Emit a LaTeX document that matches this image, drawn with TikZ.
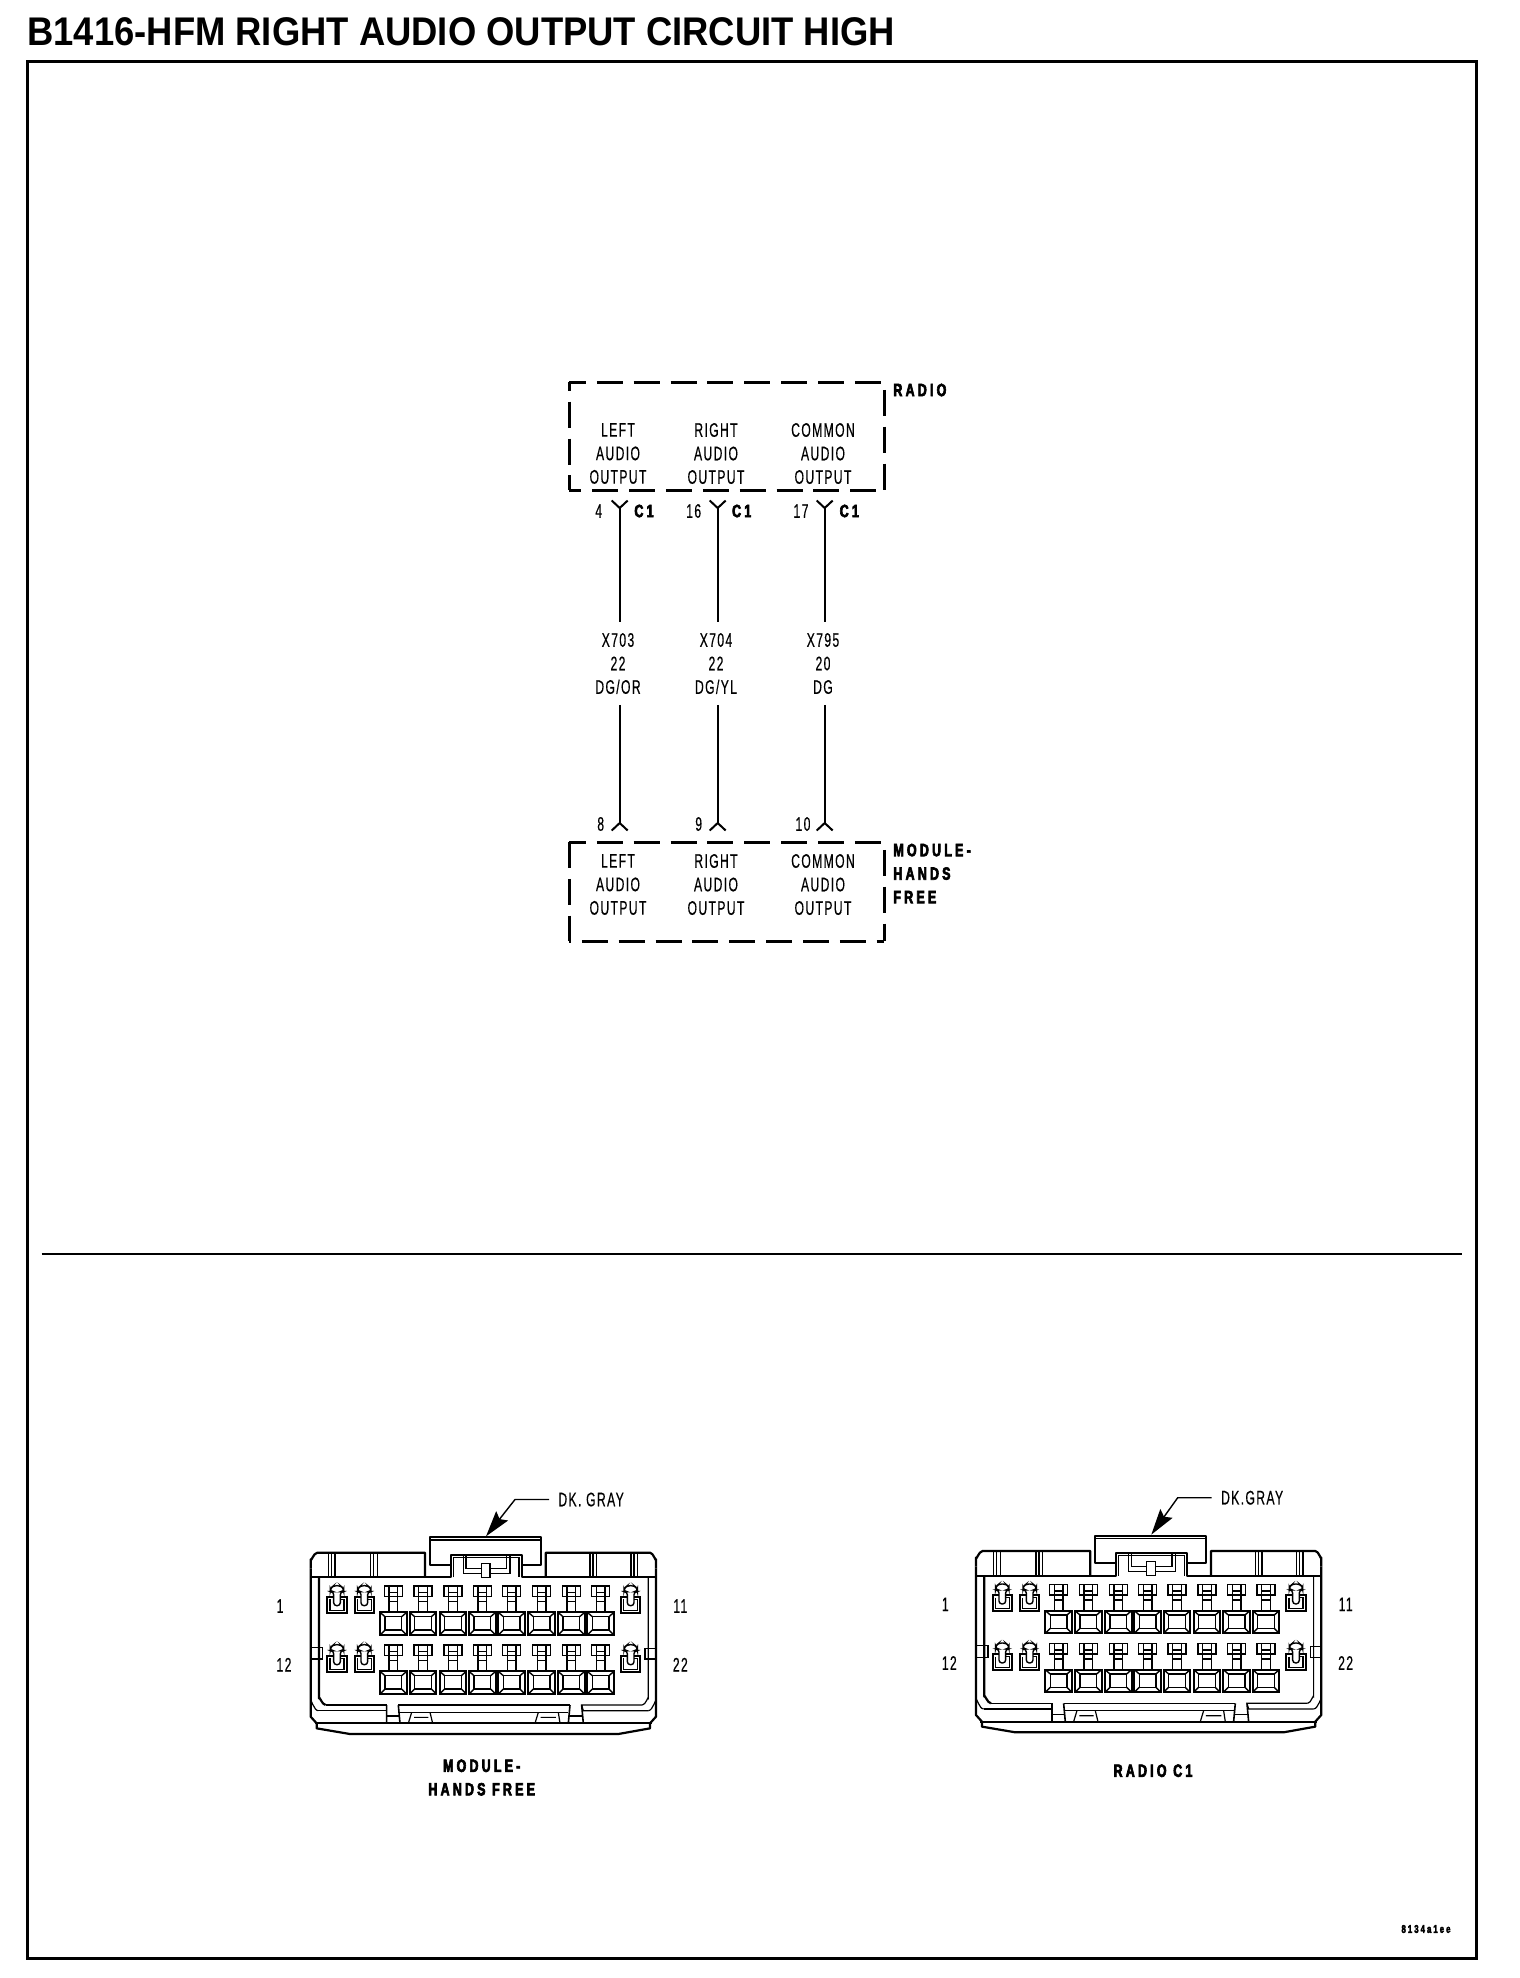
\documentclass[tikz,border=0pt]{standalone}
\usepackage{fontspec}
\setmainfont{Liberation Sans}
\newfontfamily\titlefont[FakeStretch=0.91]{Liberation Sans}
\newfontfamily\wirefont[FakeStretch=0.62,LetterSpace=7,FakeBold=0.4]{Liberation Sans}
\newfontfamily\tagfont[FakeStretch=0.7,LetterSpace=18,FakeBold=3.5]{Liberation Sans}
\usetikzlibrary{arrows.meta, positioning}

\tikzset{
  wiretext/.style={font=\wirefont\fontsize{9.8}{11.75}\selectfont, align=center, inner sep=0pt},
  tagtext/.style={font=\tagfont\bfseries\fontsize{8.9}{11.75}\selectfont, align=left, inner sep=0pt},
  region/.style={minimum width=157.5pt, inner sep=0pt, outer sep=0pt},
  dashside/.style={line width=1.5pt, dash pattern=on 13pt off 5.43pt},
  wire/.style={line width=1pt},
  leader/.style={line width=.7pt, -{Stealth[length=13pt,width=7.5pt,inset=2pt]}},
  shell/.style={line width=1.1pt, line join=round},
  fine/.style={line width=.6pt},
  pinline/.style={line width=.7pt, line join=miter},
  bigpin/.pic={
    \draw[pinline] (-27,0) rectangle (27,32);
    \draw[pinline] (-13,0) -- (-13,79) (13,0) -- (13,79) (-13,47) -- (13,47) (-13,20) -- (13,20);
    \draw[pinline, line width=1pt] (-40,79) rectangle (40,147);
    \draw[pinline] (-25,92) rectangle (25,132);
    \draw[pinline] (-40,79) -- (-25,92) (40,79) -- (25,92) (-40,147) -- (-25,132) (40,147) -- (25,132);
  },
  smallpin/.pic={
    \draw[pinline, rounded corners=1.5pt] (-10,62) -- (-10,20) -- (-20,20) -- (-20,10) -- (-10,2) -- (10,2) -- (20,10) -- (20,20) -- (10,20) -- (10,62) -- cycle;
    \draw[pinline, line width=1pt] (-10,35) -- (-29,35) -- (-29,84) -- (29,84) -- (29,35) -- (10,35);
    \draw[pinline] (-21,43) -- (-21,76) -- (21,76) -- (21,43) -- (10,43);
  },
  dkconn/.pic={
    \begin{scope}[scale=1/3]
      % top strip and tab
      \draw[shell] (152,325) -- (152,298) to[out=270,in=180] (172,278) -- (495,278) -- (495,352);
      \draw[shell] (857,352) -- (857,278) -- (1170,278) to[out=0,in=270] (1188,298) -- (1188,325);
      \draw[shell] (152,352) -- (572,352) -- (572,285) -- (785,285) -- (785,352) -- (1188,352);
      \draw[shell] (572,315) -- (510,315) -- (510,232) -- (842,232) -- (842,315) -- (785,315);
      \draw[fine] (510,240) -- (842,240) (580,352) -- (580,292) -- (777,292) -- (777,352);
      \draw[fine] (610,285) -- (610,340) -- (664,340) (618,285) -- (618,325) -- (664,325);
      \draw[fine] (750,285) -- (750,340) -- (690,340) (740,285) -- (740,325) -- (690,325);
      \draw[pinline] (664,310) rectangle (690,352);
      \foreach \rx in {205,332,990,1113}
        \draw[fine] (\rx,278) -- (\rx,352) (\rx+9,278) -- (\rx+9,352) (\rx+20,278) -- (\rx+20,352);
      % sides
      \draw[shell] (152,325) -- (152,770) -- (170,790);
      \draw[shell] (1188,325) -- (1188,770) -- (1170,790);
      \draw[shell] (177,352) -- (177,715) to[out=90,in=180] (197,735);
      \draw[fine] (1165,352) -- (1165,715) to[out=90,in=0] (1147,735);
      \draw[fine] (152,562) -- (188,562) -- (188,597) -- (152,597);
      \draw[fine] (1188,565) -- (1155,565) -- (1155,597) -- (1188,597);
      \draw[fine] (152,725) to[out=90,in=180] (175,752);
      \draw[fine] (1188,725) to[out=90,in=0] (1165,752);
      % bottom edge
      \draw[shell] (165,790) -- (1175,790);
      \draw[shell] (170,790) -- (170,805) -- (270,822) -- (1075,822) -- (1170,805) -- (1170,790);
      \draw[fine] (175,752) -- (380,752) -- (380,735) -- (197,735);
      \draw[fine] (1165,752) -- (970,752) -- (965,735) -- (1147,735);
      \draw[fine] (415,735) -- (930,735) (420,757) -- (925,757);
      \draw[shell, line width=.8pt] (380,735) -- (380,790) (415,735) -- (420,790) (930,735) -- (925,790) (965,735) -- (970,790);
      \draw[fine] (380,768) -- (418,768) (927,768) -- (968,768);
      \draw[fine] (445,790) -- (455,757) (510,757) -- (518,790) (462,772) -- (505,772);
      \draw[fine] (825,790) -- (835,757) (895,757) -- (900,790) (842,772) -- (888,772);
      % cavities
      \foreach \cx in {231,313,1112} \foreach \dy in {0,177}
        \pic[scale=1/3] at (\cx,375+\dy) {smallpin};
      \foreach \cx in {400,489,579,667,755,845,934,1022} \foreach \dy in {0,177}
        \pic[scale=1/3] at (\cx,378+\dy) {bigpin};
      % cavity numbers
      \node[wiretext] (-one) at (60,438) {1};
      \node[wiretext] (-eleven) at (1261,438) {11};
      \node[wiretext] (-twelve) at (72,614) {12};
      \node[wiretext] (-twotwo) at (1261,614) {22};
      \coordinate (-tab) at (678,229);
    \end{scope}
  },
}

\begin{document}
\begin{tikzpicture}[x=.5pt, y=-.5pt]
  \useasboundingbox (0,0) rectangle (1520,1978);

  \node[anchor=west, inner sep=0pt, font=\titlefont\bfseries\fontsize{20}{22}\selectfont] (title) at (27,31.5) {B1416-HFM RIGHT AUDIO OUTPUT CIRCUIT HIGH};
  \draw[line width=1.5pt] (27.7,61) rectangle (1476,1958);
  \draw[line width=1pt] (41.5,1254) -- (1462,1254);

  % radio box
  \node[region, minimum height=54pt] (radio) at (726.5,436) {};
  \draw[dashside, dash phase=4.5pt] (radio.north west) -- (radio.north east);
  \draw[dashside, dash phase=8.6pt] (radio.north west) -- (radio.south west);
  \draw[dashside, dash phase=6.8pt] (radio.south west) -- (radio.south east);
  \draw[dashside, dash phase=14.5pt] (radio.north east) -- (radio.south east);
  \node[tagtext, anchor=west] (radiotag) at (893,390) {RADIO};

  \node[wiretext] (rleft) at (618,453.5) {LEFT\\AUDIO\\OUTPUT};
  \node[wiretext] (rright) at (716,453.5) {RIGHT\\AUDIO\\OUTPUT};
  \node[wiretext] (rcommon) at (823,453.5) {COMMON\\AUDIO\\OUTPUT};

  % module box
  \node[region, minimum height=49.5pt] (module) at (726.5,891.5) {};
  \draw[dashside, dash phase=4.5pt] (module.north west) -- (module.north east);
  \draw[dashside] (module.north west) -- (module.south west);
  \draw[dashside, dash phase=12pt] (module.south west) -- (module.south east);
  \draw[dashside, dash phase=14.5pt] (module.north east) -- (module.south east);
  \node[tagtext, anchor=west] (moduletag) at (893,873.5) {MODULE-\\HANDS\\FREE};

  \node[wiretext] (mleft) at (618,884.5) {LEFT\\AUDIO\\OUTPUT};
  \node[wiretext] (mright) at (716,884.5) {RIGHT\\AUDIO\\OUTPUT};
  \node[wiretext] (mcommon) at (823,884.5) {COMMON\\AUDIO\\OUTPUT};

  % circuit labels sit on the wires
  \node[wiretext, inner ysep=5.2pt, inner xsep=0pt] (xleft) at (618,663.5) {X703\\22\\DG/OR};
  \node[wiretext, inner ysep=5.2pt, inner xsep=0pt] (xright) at (716,663.5) {X704\\22\\DG/YL};
  \node[wiretext, inner ysep=5.2pt, inner xsep=0pt] (xcommon) at (823,663.5) {X795\\20\\DG};

  \coordinate (c4) at (619.7,508);
  \coordinate (c16) at (717.7,508);
  \coordinate (c17) at (824.7,508);
  \coordinate (p8) at (619.7,823);
  \coordinate (p9) at (717.7,823);
  \coordinate (p10) at (824.7,823);

  \foreach \pin in {c4,c16,c17}
    \draw[wire] (\pin) ++(-8,-7.5) -- (\pin) -- ++(8,-7.5);
  \foreach \pin in {p8,p9,p10}
    \draw[wire] (\pin) ++(-8,7.5) -- (\pin) -- ++(8,7.5);

  \draw[wire] (c4) -- (c4 |- xleft.north);
  \draw[wire] (c16) -- (c16 |- xright.north);
  \draw[wire] (c17) -- (c17 |- xcommon.north);
  \draw[wire] (c4 |- xleft.south) -- (p8);
  \draw[wire] (c16 |- xright.south) -- (p9);
  \draw[wire] (c17 |- xcommon.south) -- (p10);

  \node[wiretext] (n4) at (598.7,511) {4};
  \node[wiretext] (n16) at (693.7,511) {16};
  \node[wiretext] (n17) at (801,511) {17};
  \node[tagtext] (c1a) at (644,511) {C1};
  \node[tagtext] (c1b) at (741.7,511) {C1};
  \node[tagtext] (c1c) at (849.3,511) {C1};
  \node[wiretext] (n8) at (600.7,824) {8};
  \node[wiretext] (n9) at (698.7,824) {9};
  \node[wiretext] (n10) at (803,824) {10};

  % connector views
  \pic (conA) at (260,1460) {dkconn};
  \pic (conB) at (925.3,1458.3) {dkconn};

  \node[wiretext, anchor=west] (grayA) at (558,1499.5) {DK. GRAY};
  \node[wiretext, anchor=west] (grayB) at (1220.7,1497.7) {DK.GRAY};
  \draw[leader] (grayA.west) ++(-9,0) coordinate (ga) -- ++(-34,0) -- (conA-tab);
  \draw[leader] (grayB.west) ++(-9,0) coordinate (gb) -- ++(-34,0) -- (conB-tab);

  \node[tagtext, align=center] (capA) at (481.7,1777.5) {MODULE-\\HANDS FREE};
  \node[tagtext] (capB) at (1153,1770.7) {RADIO C1};
  \node[tagtext, font=\tagfont\bfseries\fontsize{5.6}{7}\selectfont] (stamp) at (1426,1929) {8134a1ee};
\end{tikzpicture}
\end{document}
